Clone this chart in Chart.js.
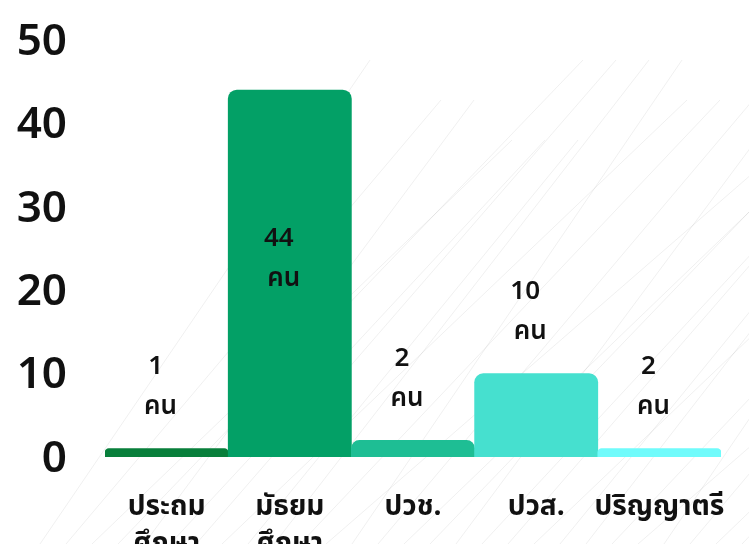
<!DOCTYPE html>
<html>
<head>
<meta charset="utf-8">
<script src="https://cdn.jsdelivr.net/npm/chart.js@4.4.1/dist/chart.umd.min.js"></script>
<style>
  html, body { margin: 0; padding: 0; background: #ffffff; }
  #wrap { width: 749px; height: 544px; position: relative; }
</style>
</head>
<body>
<div id="wrap"><canvas id="eduChart"></canvas></div>
<script>
// education levels
var eduLevels = [["ประถม", "ศึกษา"], ["มัธยม", "ศึกษา"], "ปวช.", "ปวส.", "ปริญญาตรี"];
// bar heights
var eduCounts = [1, 44, 2, 10, 1];
// the numbers printed over the bars
var eduCountText = ["1", "44", "2", "10", "2"];
var eduUnit = "คน";
var yTicks = [0, 10, 20, 30, 40, 50];

var eduColors = ['#087f3b', '#03a066', '#1ebe94', '#46e0cf', '#70fbfb'];
var thaiFont = "'Noto Sans Thai', 'Noto Sans', 'DejaVu Sans', sans-serif";

// faint diagonal strokes in the background
const bgLines = {
  id: 'bgLines',
  beforeDraw(chart) {
    const c = chart.ctx;
    c.save();
    c.fillStyle = '#ffffff';
    c.fillRect(0, 0, chart.width, chart.height);
    c.strokeStyle = 'rgba(140,140,140,0.13)';
    c.lineWidth = 1;
    for (let i = 0; i < 30; i++) {
      const x0 = 40 + i * 26;
      c.beginPath();
      c.moveTo(x0, chart.height);
      c.lineTo(x0 + 330 + (i % 4) * 45, 60 + (i % 3) * 40);
      c.stroke();
    }
    c.restore();
  }
};

// y tick numbers, drawn by hand so they sit a little lower than chart.js puts them
const yNumbers = {
  id: 'yNumbers',
  afterDraw(chart) {
    const c = chart.ctx;
    const y = chart.scales.y;
    c.save();
    c.fillStyle = '#111111';
    c.font = '600 44px ' + thaiFont;
    c.textAlign = 'right';
    c.textBaseline = 'middle';
    yTicks.forEach(v => {
      c.fillText(String(v), y.right - 38, y.getPixelForValue(v) + 6);
    });
    c.restore();
  }
};

// "N / คน" annotations
const countLabels = {
  id: 'countLabels',
  afterDatasetsDraw(chart) {
    const c = chart.ctx;
    const meta = chart.getDatasetMeta(0);
    c.save();
    c.fillStyle = '#111111';
    c.font = '600 26px ' + thaiFont;
    c.textAlign = 'center';
    c.textBaseline = 'middle';
    meta.data.forEach((bar, i) => {
      let unitY;
      if (eduCounts[i] > 30) {
        unitY = (bar.y + bar.base) / 2 + 7;
      } else {
        unitY = bar.y - 40;
      }
      const x = bar.x - 6;
      c.fillText(eduCountText[i], x - 5, unitY - 40);
      c.fillText(eduUnit, x, unitY);
    });
    c.restore();
  }
};

var ctx = document.getElementById('eduChart').getContext('2d');
var eduChart = new Chart(ctx, {
  type: 'bar',
  data: {
    labels: eduLevels,
    datasets: [{
      data: eduCounts,
      backgroundColor: eduColors,
      borderRadius: { topLeft: 9, topRight: 9, bottomLeft: 0, bottomRight: 0 },
      borderSkipped: 'bottom',
      barPercentage: 1,
      categoryPercentage: 1
    }]
  },
  options: {
    responsive: true,
    maintainAspectRatio: false,
    animation: false,
    layout: { padding: { top: 40, right: 28, left: 0, bottom: 0 } },
    plugins: {
      legend: { display: false },
      tooltip: { enabled: false }
    },
    scales: {
      x: {
        grid: { display: false, drawTicks: false },
        border: { display: false },
        ticks: {
          color: '#111111',
          padding: 33,
          maxRotation: 0,
          autoSkip: false,
          font: { family: thaiFont, size: 28, weight: 'bold', lineHeight: 1.35 }
        },
        afterFit: function(s) {
          s.height = 87;
          s.paddingLeft = 0; s.paddingRight = 0;
        }
      },
      y: {
        min: 0,
        max: 50,
        afterBuildTicks: function(s) { s.ticks = yTicks.map(v => ({ value: v })); },
        grid: { display: false, drawTicks: false },
        border: { display: false },
        ticks: { display: false },
        afterFit: function(s) {
          s.width = 105;
          s.paddingTop = 0; s.paddingBottom = 0;
        }
      }
    }
  },
  plugins: [bgLines, countLabels, yNumbers]
});
</script>
</body>
</html>
